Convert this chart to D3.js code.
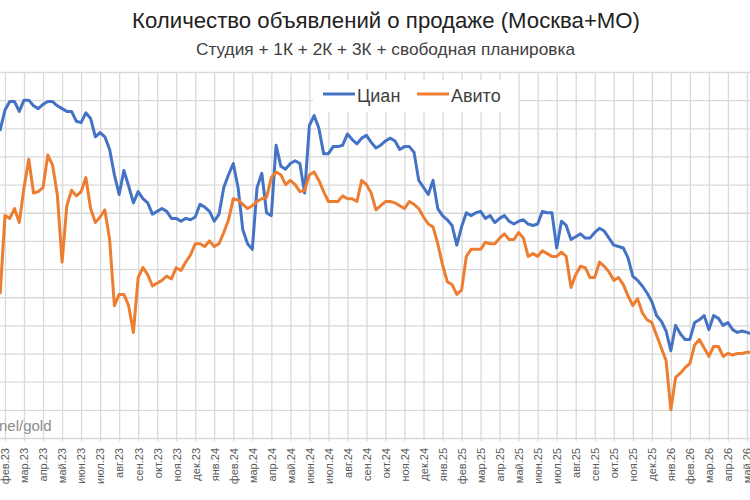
<!DOCTYPE html>
<html>
<head>
<meta charset="utf-8">
<script src="https://d3js.org/d3.v7.min.js"></script>
<style>
body { margin: 0; background: #fff; }
.container svg { display: block; font-family: "Liberation Sans", Arial, sans-serif; }
.grid line { stroke: #d9d9d9; stroke-width: 1.3; }
.grid path { display: none; }
.xAxis text { fill: #595959; font-size: 11px; }
.line { fill: none; stroke-width: 3; stroke-linejoin: round; stroke-linecap: round; }
</style>
</head>
<body>
<div class="container"></div>
<script>
var width = 750;
var height = 500;
var plotTop = 72;
var plotBottom = 438;
var firstX = 0.24;
var pointStep = 4.756;
var pointsPerMonth = 4;
var firstMonthPoint = 1;

var months = ['фев.23','мар.23','апр.23','май.23','июн.23','июл.23','авг.23','сен.23','окт.23','ноя.23','дек.23',
	'янв.24','фев.24','мар.24','апр.24','май.24','июн.24','июл.24','авг.24','сен.24','окт.24','ноя.24','дек.24',
	'янв.25','фев.25','мар.25','апр.25','май.25','июн.25','июл.25','авг.25','сен.25','окт.25','ноя.25','дек.25',
	'янв.26','фев.26','мар.26','апр.26','май.26'];

// weekly values (relative units, grid step = 20)
var cian = [219,233,239,239,232,240,240,236,234,237,239,239,236,234,232,232,225,224,231,227,
	214,217,214,205,187,173,190,179,167,175,170,167,159,161,163,161,156,156,154,156,
	155,157,166,164,161,154,159,178,187,195,178,148,138,134,178,188,160,158,208,193,
	191,195,197,195,174,222,229,220,202,202,207,207,208,216,212,209,213,215,210,206,
	208,211,213,211,205,207,207,203,183,178,173,183,163,158,155,151,137,150,160,158,
	160,161,156,158,153,156,158,154,152,154,155,152,151,152,161,160,160,135,154,151,
	141,143,145,142,142,146,149,147,142,137,136,135,128,115,112,108,103,97,87,83,
	76,62,80,74,70,70,82,84,87,77,87,85,80,82,77,75,76,75,74];

var avito = [103,158,156,163,153,178,198,174,175,178,201,194,173,125,165,176,172,175,185,163,
	153,157,162,141,94,102,102,94,75,114,121,116,108,110,112,115,113,121,119,125,
	130,138,138,136,140,136,138,146,155,170,169,166,163,165,168,170,171,185,189,187,
	180,183,180,175,176,187,189,183,175,168,168,168,172,170,170,168,183,180,174,162,
	165,168,168,167,165,163,168,166,163,157,152,150,138,123,111,109,102,105,129,134,
	134,134,139,138,138,142,145,141,141,146,142,129,131,129,133,131,129,129,132,129,
	107,116,122,121,114,114,125,122,118,112,114,109,101,94,99,89,84,82,73,64,
	55,20,43,46,50,53,66,70,64,58,65,65,58,60,59,60,60,61,61];

var series = [
	{name: 'Циан', values: cian, color: '#4472c4'},
	{name: 'Авито', values: avito, color: '#ed7d31'}
];

var translate = function(x, y) {
	return 'translate(' + x + ',' + y + ')';
};

var draw = function() {
	var svg = d3.select('.container').append('svg')
		.attr('width', width)
		.attr('height', height);

	var n = cian.length;
	var xScale = d3.scaleLinear()
		.domain([0, n - 1])
		.range([firstX, firstX + (n - 1) * pointStep]);

	var yScale = d3.scaleLinear()
		.domain([0, 260])
		.range([plotBottom, plotTop]);

	// horizontal grid
	var yGrid = d3.axisLeft(yScale)
		.tickValues(d3.range(0, 261, 20))
		.tickSize(-(width + 40))
		.tickFormat('');
	svg.append('g')
		.classed('grid', true)
		.attr('transform', translate(-20, 0))
		.call(yGrid);

	// month axis with vertical grid
	var tickIdx = months.map(function(m, j) { return firstMonthPoint + j * pointsPerMonth; });
	var xAxis = d3.axisBottom(xScale)
		.tickValues(tickIdx)
		.tickSize(-(plotBottom + 3 - plotTop))
		.tickSizeOuter(0)
		.tickFormat(function(d, j) { return months[j]; });
	var xg = svg.append('g')
		.classed('grid', true)
		.classed('xAxis', true)
		.attr('transform', translate(0, plotBottom + 3))
		.call(xAxis);
	xg.selectAll('text')
		.attr('transform', 'rotate(-90)')
		.attr('text-anchor', 'end')
		.attr('x', -7)
		.attr('y', 0)
		.attr('dy', '0.35em');

	var line = d3.line()
		.x(function(d, i) { return xScale(i); })
		.y(function(d) { return yScale(d); });

	var lineGroup = svg.append('g').classed('lineGroup', true);
	lineGroup.selectAll('path')
		.data(series)
		.enter()
		.append('path')
		.classed('line', true)
		.attr('stroke', function(d) { return d.color; })
		.attr('d', function(d) { return line(d.values); });

	// legend
	var legend = svg.append('g').classed('legend', true);
	legend.append('rect')
		.attr('x', 313).attr('y', 80)
		.attr('width', 205).attr('height', 32)
		.attr('fill', '#fff');
	var items = legend.selectAll('g.item')
		.data(series)
		.enter()
		.append('g')
		.classed('item', true)
		.attr('transform', function(d, i) { return translate(i === 0 ? 323 : 417, 94); });
	items.append('line')
		.attr('x1', 0).attr('x2', 32)
		.attr('stroke', function(d) { return d.color; })
		.attr('stroke-width', 3);
	items.append('text')
		.attr('x', 34).attr('y', 8)
		.attr('font-size', 18)
		.attr('fill', '#404040')
		.text(function(d) { return d.name; });

	// titles
	svg.append('text')
		.attr('x', 386).attr('y', 28)
		.attr('text-anchor', 'middle')
		.attr('font-size', 21.5)
		.attr('fill', '#222')
		.attr('textLength', 508)
		.attr('lengthAdjust', 'spacingAndGlyphs')
		.text('Количество объявлений о продаже (Москва+МО)');
	svg.append('text')
		.attr('x', 385.5).attr('y', 55)
		.attr('text-anchor', 'middle')
		.attr('font-size', 17)
		.attr('fill', '#404040')
		.attr('textLength', 379)
		.attr('lengthAdjust', 'spacingAndGlyphs')
		.text('Студия + 1К + 2К + 3К + свободная планировка');

	// watermark, cut by the left edge
	svg.append('text')
		.attr('x', -1).attr('y', 431)
		.attr('font-size', 15)
		.attr('fill', '#8c8c8c')
		.text('nel/gold');
};

draw();
</script>
</body>
</html>
